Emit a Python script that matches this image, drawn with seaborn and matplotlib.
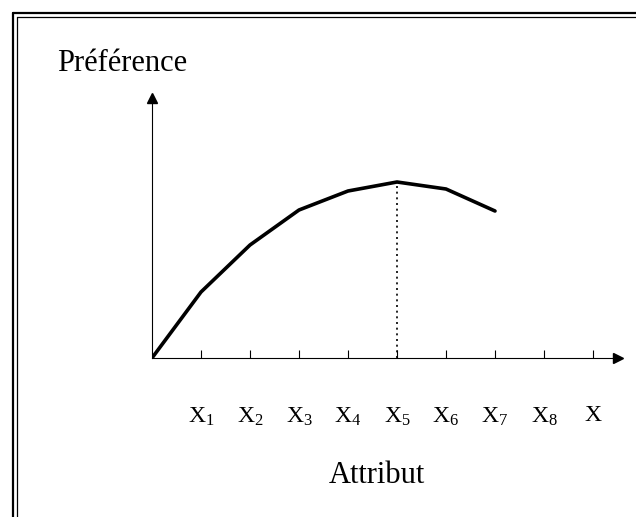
import numpy as np
import matplotlib
matplotlib.use("Agg")
import matplotlib.pyplot as plt
import seaborn as sns
from matplotlib.lines import Line2D

# data (x in attribute steps, y in arbitrary preference units)
positions = [0, 1, 2, 3, 4, 5, 6, 7]
preference = [0.0, 3.3, 5.65, 7.4, 8.35, 8.8, 8.45, 7.35]
peak_idx = 5
tick_pos = [1, 2, 3, 4, 5, 6, 7, 8, 9]
tick_labels = [r'$\mathrm{X}_1$', r'$\mathrm{X}_2$', r'$\mathrm{X}_3$', r'$\mathrm{X}_4$',
               r'$\mathrm{X}_5$', r'$\mathrm{X}_6$', r'$\mathrm{X}_7$', r'$\mathrm{X}_8$',
               r'$\mathrm{X}$']
y_title = 'Préférence'
x_title = 'Attribut'

sns.set_style("white")
plt.rcParams['font.family'] = ['Liberation Serif', 'DejaVu Serif']
plt.rcParams['mathtext.fontset'] = 'custom'
plt.rcParams['mathtext.rm'] = 'Liberation Serif'
plt.rcParams['mathtext.it'] = 'Liberation Serif:italic'
plt.rcParams['text.color'] = 'black'
plt.rcParams['xtick.color'] = 'black'
plt.rcParams['xtick.labelcolor'] = 'black'

W, H = 636, 517
fig = plt.figure(figsize=(W / 100, H / 100), dpi=100)

# axes placed so the origin sits where the sketch has it
x0, y0 = 152, 358
xmax, ymax = 9.5, 13.0
px_x, px_y = 49, 20
ax = fig.add_axes([x0 / W, (H - y0) / H, xmax * px_x / W, ymax * px_y / H])
ax.set_xlim(0, xmax)
ax.set_ylim(0, ymax)

sns.lineplot(x=positions, y=preference, color='black', linewidth=2.6, ax=ax)
ax.vlines(positions[peak_idx], 0, preference[peak_idx], colors='black',
          linestyles=(0, (1.2, 2.2)), linewidth=1.2)

for s in ['top', 'right']:
    ax.spines[s].set_visible(False)
for s in ['left', 'bottom']:
    ax.spines[s].set_color('black')
    ax.spines[s].set_linewidth(0.8)

ax.plot(1, 0, '>k', markersize=7, transform=ax.get_yaxis_transform(), clip_on=False)
ax.plot(0, 1, '^k', markersize=7, transform=ax.get_xaxis_transform(), clip_on=False)

ax.set_xticks(tick_pos)
ax.set_xticklabels(tick_labels, fontsize=17)
ax.tick_params(axis='x', bottom=True, direction='in', length=6, width=0.8,
               color='black', labelcolor='black', pad=34)
ax.set_yticks([])
ax.set_xlabel('')
ax.set_ylabel('')

fig.text(57 / W, 1 - 71 / H, y_title, fontsize=22, va='baseline', ha='left', color='black')
fig.text(329 / W, 1 - 483 / H, x_title, fontsize=22, va='baseline', ha='left', color='black')

# double frame lines (left and top edges of the boxed figure)
fig.add_artist(Line2D([13 / W, 13 / W], [0, 1 - 13 / H], color='black', lw=1.6))
fig.add_artist(Line2D([16.5 / W, 16.5 / W], [0, 1 - 16.5 / H], color='black', lw=0.9))
fig.add_artist(Line2D([13 / W, 1], [1 - 13 / H, 1 - 13 / H], color='black', lw=1.6))
fig.add_artist(Line2D([16.5 / W, 1], [1 - 16.5 / H, 1 - 16.5 / H], color='black', lw=0.9))

fig.savefig('out.png', dpi=100)
